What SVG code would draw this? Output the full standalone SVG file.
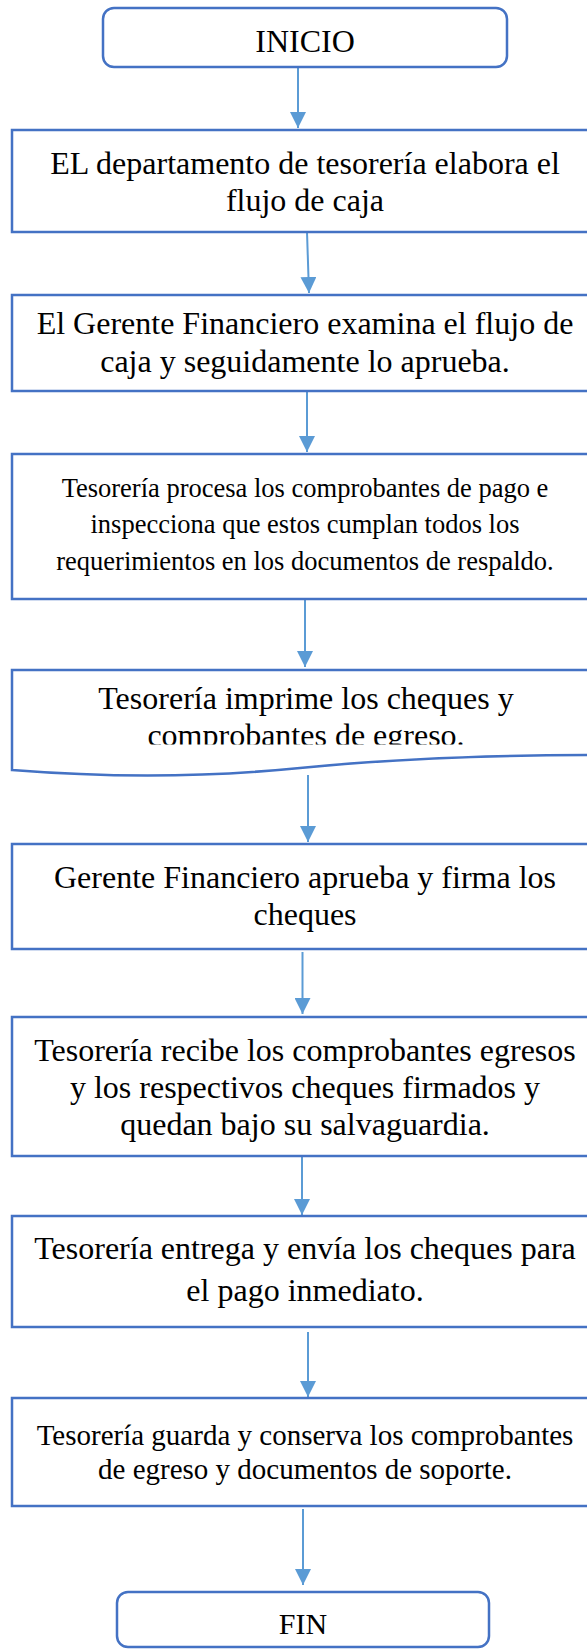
<svg xmlns="http://www.w3.org/2000/svg" width="587" height="1649" viewBox="0 0 587 1649">
<style>
.box{fill:#ffffff;stroke:#4472C4;stroke-width:2.5}
.t{font-family:"Liberation Serif","Times New Roman",serif;fill:#000;text-anchor:middle}
.conn{stroke:#5B9BD5;stroke-width:2;fill:none}
</style>
<defs>
<marker id="ah" viewBox="0 0 10 10" refX="10" refY="5" markerWidth="16" markerHeight="16" markerUnits="userSpaceOnUse" orient="auto">
<path d="M0,0 L10,5 L0,10 z" fill="#5B9BD5"/>
</marker>
<clipPath id="clip4"><rect x="0" y="670" width="600" height="74.5"/></clipPath>
</defs>
<rect width="587" height="1649" fill="#fff"/>
<g id="connectors">
<line class="conn" x1="298" y1="67" x2="298" y2="128" marker-end="url(#ah)"/>
<line class="conn" x1="307" y1="232" x2="309" y2="293" marker-end="url(#ah)"/>
<line class="conn" x1="307" y1="391" x2="307" y2="452" marker-end="url(#ah)"/>
<line class="conn" x1="305" y1="597" x2="305" y2="667" marker-end="url(#ah)"/>
<line class="conn" x1="308" y1="775" x2="308" y2="842" marker-end="url(#ah)"/>
<line class="conn" x1="302.5" y1="952" x2="302.5" y2="1014" marker-end="url(#ah)"/>
<line class="conn" x1="302" y1="1150" x2="302" y2="1215" marker-end="url(#ah)"/>
<line class="conn" x1="308" y1="1332" x2="308" y2="1397" marker-end="url(#ah)"/>
<line class="conn" x1="303" y1="1509" x2="303" y2="1585" marker-end="url(#ah)"/>
</g>
<g id="inicio">
<rect class="box" x="103" y="8" width="404" height="59" rx="11"/>
<text class="t" x="305" y="52" font-size="32">INICIO</text>
</g>
<g id="n1">
<rect class="box" x="12" y="130" width="588" height="102"/>
<text class="t" font-size="32"><tspan x="305" y="174">EL departamento de tesorería elabora el</tspan><tspan x="305" y="211">flujo de caja</tspan></text>
</g>
<g id="n2">
<rect class="box" x="12" y="295" width="588" height="96"/>
<text class="t" font-size="32"><tspan x="305" y="334">El Gerente Financiero examina el flujo de</tspan><tspan x="305" y="372">caja y seguidamente lo aprueba.</tspan></text>
</g>
<g id="n3">
<rect class="box" x="12" y="454" width="588" height="145"/>
<text class="t" font-size="26.5"><tspan x="305" y="497">Tesorería procesa los comprobantes de pago e</tspan><tspan x="305" y="533">inspecciona que estos cumplan todos los</tspan><tspan x="305" y="570">requerimientos en los documentos de respaldo.</tspan></text>
</g>
<g id="n4">
<path class="box" d="M12,670 L600,670 L600,755 C500,755 400,758 300,768 C200,778 100,777 12,770 Z"/>
<g clip-path="url(#clip4)">
<text class="t" font-size="32"><tspan x="306" y="709">Tesorería imprime los cheques y</tspan><tspan x="306" y="746">comprobantes de egreso.</tspan></text>
</g>
</g>
<g id="n5">
<rect class="box" x="12" y="844" width="588" height="105"/>
<text class="t" font-size="32"><tspan x="305" y="888">Gerente Financiero aprueba y firma los</tspan><tspan x="305" y="925">cheques</tspan></text>
</g>
<g id="n6">
<rect class="box" x="12" y="1017" width="588" height="139"/>
<text class="t" font-size="32"><tspan x="305" y="1061">Tesorería recibe los comprobantes egresos</tspan><tspan x="305" y="1098">y los respectivos cheques firmados y</tspan><tspan x="305" y="1135">quedan bajo su salvaguardia.</tspan></text>
</g>
<g id="n7">
<rect class="box" x="12" y="1216" width="588" height="111"/>
<text class="t" font-size="32"><tspan x="305" y="1259">Tesorería entrega y envía los cheques para</tspan><tspan x="305" y="1301">el pago inmediato.</tspan></text>
</g>
<g id="n8">
<rect class="box" x="12" y="1398" width="588" height="108"/>
<text class="t" font-size="29"><tspan x="305" y="1445">Tesorería guarda y conserva los comprobantes</tspan><tspan x="305" y="1479">de egreso y documentos de soporte.</tspan></text>
</g>
<g id="fin">
<rect class="box" x="117" y="1592" width="372" height="55" rx="11"/>
<text class="t" x="303" y="1634" font-size="30">FIN</text>
</g>
</svg>
